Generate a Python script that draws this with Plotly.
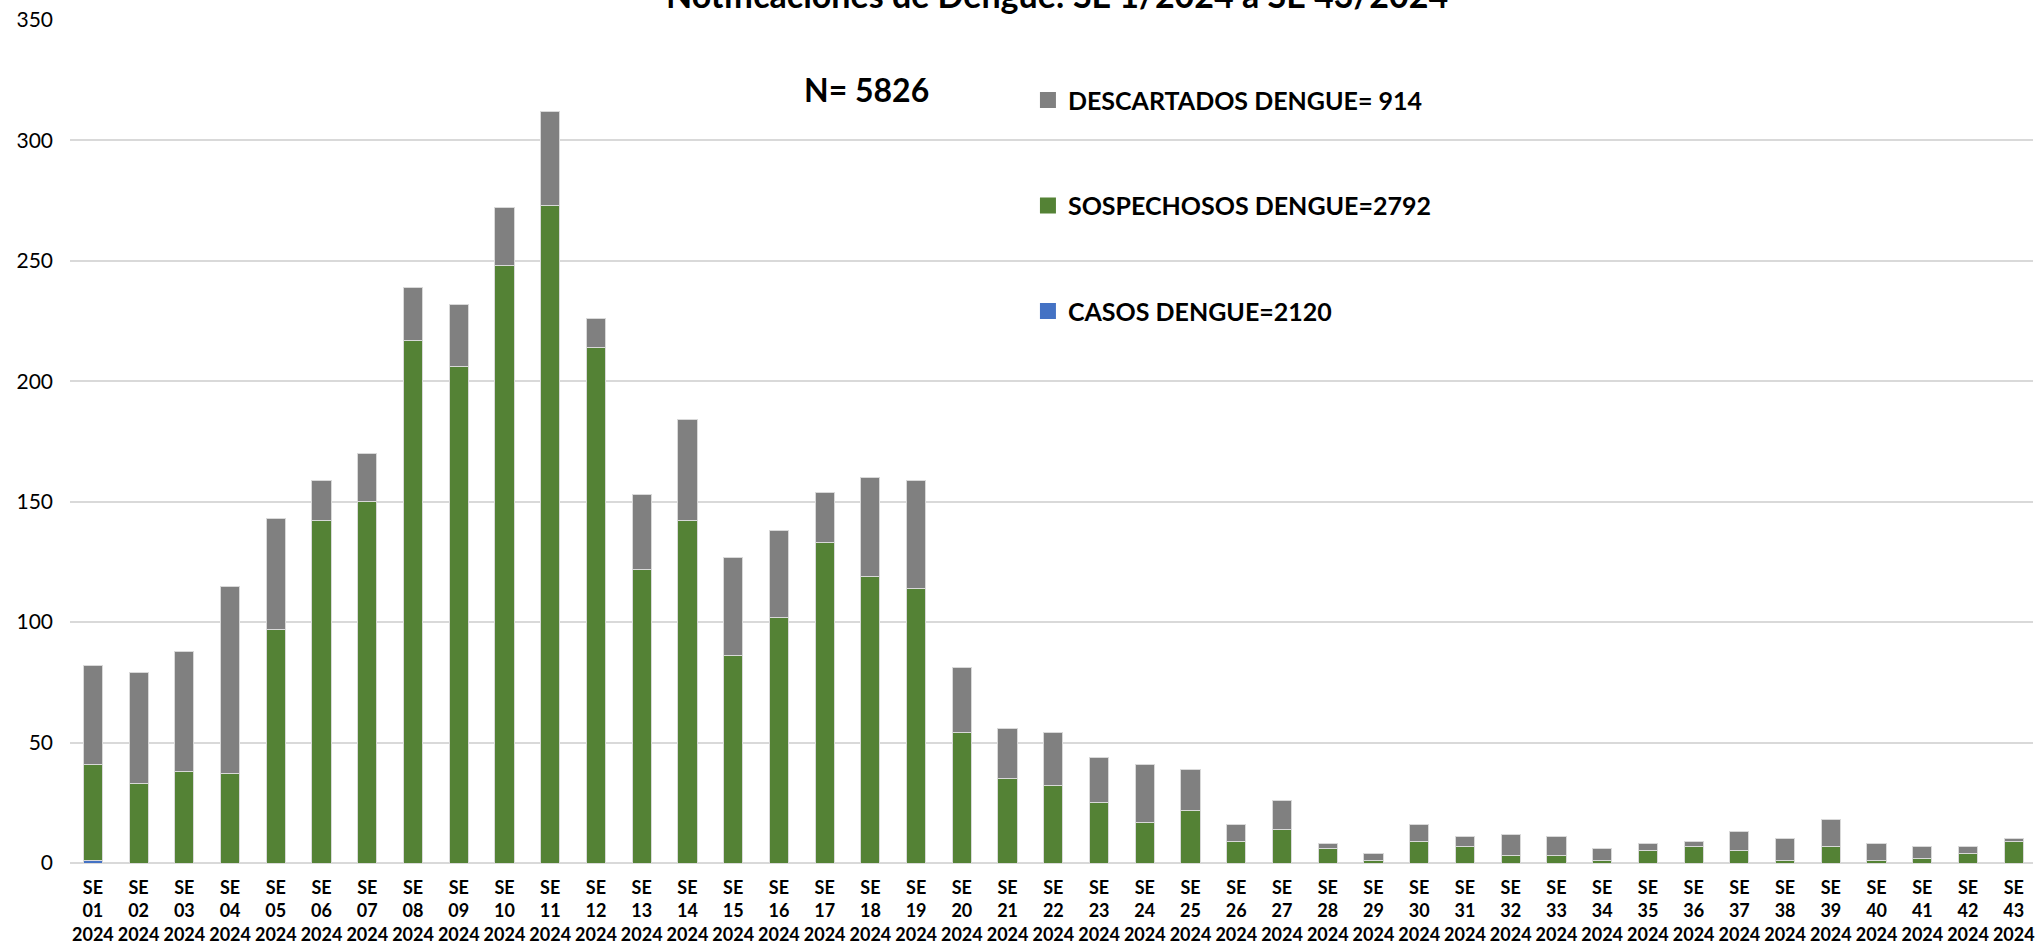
import plotly.graph_objects as go

weeks = [f"SE<br>{i:02d}<br>2024" for i in range(1, 44)]

# top of each stacked bar (total) and top of green segment (casos + sospechosos)
casos = [1] + [0] * 42
sospechosos_top = [41, 33, 38, 37, 97, 142, 150, 217, 206, 248, 273, 214, 122, 142, 86, 102, 133, 119, 114, 54,
                   35, 32, 25, 17, 22, 9, 14, 6, 1, 9, 7, 3, 3, 1, 5, 7, 5, 1, 7, 1, 2, 4, 9]
totales = [82, 79, 88, 115, 143, 159, 170, 239, 232, 272, 312, 226, 153, 184, 127, 138, 154, 160, 159, 81,
           56, 54, 44, 41, 39, 16, 26, 8, 4, 16, 11, 12, 11, 6, 8, 9, 13, 10, 18, 8, 7, 7, 10]

sospechosos = [s - c for s, c in zip(sospechosos_top, casos)]
descartados = [t - s for t, s in zip(totales, sospechosos_top)]

series_names = ["CASOS DENGUE=2120", "SOSPECHOSOS DENGUE=2792", "DESCARTADOS DENGUE= 914"]
series_colors = ["#4472C4", "#548235", "#808080"]
series_values = [casos, sospechosos, descartados]

FONT = "Lato, Carlito, Calibri, sans-serif"
line = dict(color="#d9d9d9", width=1)

fig = go.Figure()
for i, (name, color, vals) in enumerate(zip(series_names, series_colors, series_values)):
    fig.add_trace(go.Bar(x=weeks, y=vals, name=name, marker=dict(color=color, line=line),
                         legendgroup=name, showlegend=False))
for i, (name, color) in enumerate(zip(series_names, series_colors)):
    # legend entries with a larger square swatch
    fig.add_trace(go.Scatter(x=[None], y=[None], mode="markers", name=name, legendgroup=name,
                             marker=dict(color=color, symbol="square", size=16, line=dict(width=0)),
                             legendrank=3 - i))

fig.update_layout(
    width=2035, height=951,
    barmode="stack", bargap=0.58,
    plot_bgcolor="white", paper_bgcolor="white",
    margin=dict(l=70, r=0, t=20, b=88),
    font=dict(family=FONT, color="black"),
    legend=dict(x=0.488, y=0.932, xanchor="left", yanchor="top", traceorder="grouped",
                tracegroupgap=70, font=dict(size=25, family=FONT, weight="bold"), bgcolor="rgba(0,0,0,0)"),
    xaxis=dict(range=[-0.5, 42.42], tickfont=dict(size=18, family=FONT, weight="bold"), tickangle=0,
               showgrid=False, showline=False, ticks="", ticklabelstandoff=12),
    yaxis=dict(range=[0, 350], dtick=50, gridcolor="#d9d9d9", gridwidth=1.5, zeroline=True,
               zerolinecolor="#d9d9d9", zerolinewidth=2, tickfont=dict(size=21, family=FONT),
               ticklabelstandoff=16),
    annotations=[
        dict(text="<b>N= 5826</b>", xref="paper", yref="paper", x=0.4056, y=0.918, showarrow=False,
             font=dict(size=32, family=FONT), xanchor="center", yanchor="middle"),
        dict(text="<b>Notificaciones de Dengue: SE 1/2024 a SE 43/2024</b>", xref="paper", yref="paper",
             x=0.503, y=1.004, showarrow=False, font=dict(size=34, family=FONT),
             xanchor="center", yanchor="bottom"),
    ],
)

fig.write_html("out.html", config={"displayModeBar": False},
               post_script="document.body.style.margin='0px';")
